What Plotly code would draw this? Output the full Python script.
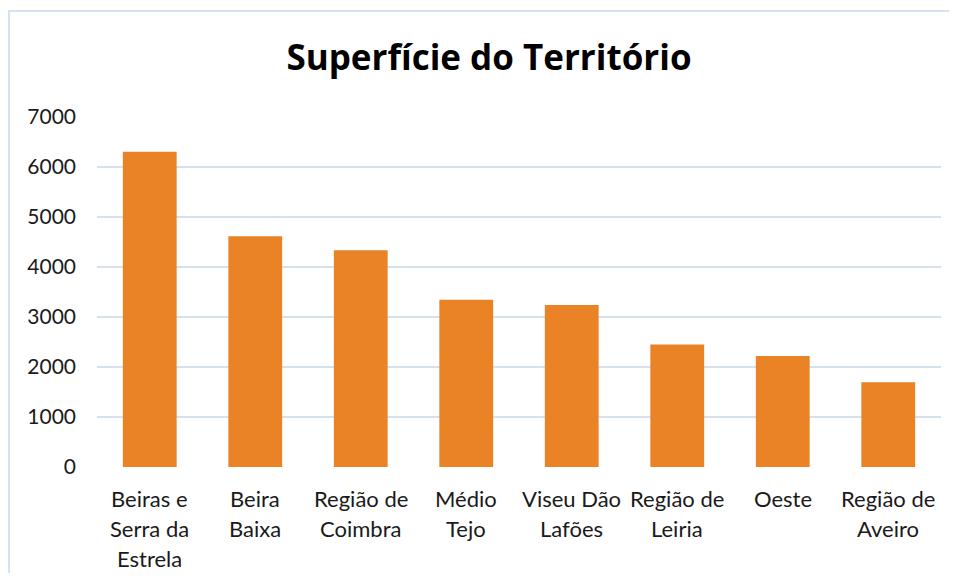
import plotly.graph_objects as go

categories = ["Beiras e<br>Serra da<br>Estrela", "Beira<br>Baixa", "Região de<br>Coimbra", "Médio<br>Tejo",
              "Viseu Dão<br>Lafões", "Região de<br>Leiria", "Oeste", "Região de<br>Aveiro"]
values = [6305, 4615, 4336, 3344, 3238, 2449, 2220, 1693]
y_ticks = [0, 1000, 2000, 3000, 4000, 5000, 6000, 7000]

# page has an 8px body margin; figure sized to fill the remaining window
W, H = 941, 565
L, T = 89, 109
PR, PB = 933, 459  # plot right / bottom in figure px
R, B = W - PR, H - PB
pw, ph = PR - L, PB - T

fig = go.Figure()
fig.add_trace(go.Bar(
    x=list(range(len(categories))), y=values,
    marker=dict(color="#EA8226", line=dict(width=0)),
    width=0.51,
))

annotations = []
for i, lab in enumerate(categories):
    for j, line in enumerate(lab.split("<br>")):
        annotations.append(dict(
            x=i, y=0, xref="x", yref="y", text=line, showarrow=False,
            yshift=-31 - 30 * j, font=dict(family="Lato", size=22, color="#1a1a1a"),
            xanchor="center", yanchor="middle",
        ))

fig.update_layout(
    width=W, height=H,
    margin=dict(l=L, r=R, t=T, b=B, autoexpand=False),
    plot_bgcolor="white", paper_bgcolor="white",
    title=dict(text="<b>Superfície do Território</b>", x=481 / W, xref="container", xanchor="center",
               y=1 - 50 / H, yref="container", yanchor="middle",
               font=dict(family="Open Sans", size=35, color="#000")),
    showlegend=False,
    bargap=0.49,
    xaxis=dict(range=[-0.5, len(categories) - 0.5], showticklabels=False, showgrid=False,
               zeroline=False, showline=False, ticks=""),
    yaxis=dict(range=[0, 7000], tickvals=y_ticks, showgrid=True, gridcolor="#D7E1EE", gridwidth=2,
               zeroline=False, showline=False, ticks="", ticklabelstandoff=20,
               tickfont=dict(family="Lato", size=21, color="#1a1a1a")),
    annotations=annotations,
    shapes=[dict(type="rect", xref="paper", yref="paper", layer="below",
                 x0=(1 - L) / pw, x1=(W + 20 - L) / pw,
                 y0=(PB - (H + 20)) / ph, y1=(PB - 3) / ph,
                 line=dict(color="#D6E2F0", width=2), fillcolor="rgba(0,0,0,0)")],
)

fig.write_html("out.html")
